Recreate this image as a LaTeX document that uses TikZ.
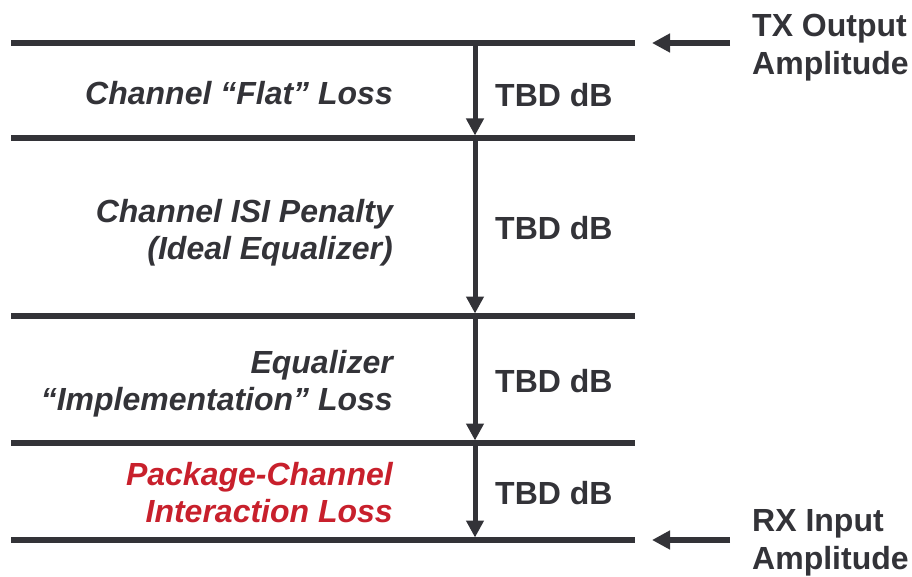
\documentclass[tikz,border=0pt]{standalone}
\usepackage{fontspec}
\setmainfont{Liberation Sans}
\usetikzlibrary{arrows.meta}
\definecolor{ink}{HTML}{333338}
\definecolor{redtxt}{HTML}{C8202C}
\tikzset{
  level/.style={draw=ink, line width=5.5pt},
  drop/.style={draw=ink, line width=5pt, -{Triangle[length=17pt,width=17pt]}, shorten >=2.5pt},
  sidearrow/.style={draw=ink, line width=5.5pt, -{Triangle[length=18pt,width=18pt]}},
  lbl/.style={font=\fontsize{32}{37.5}\selectfont\bfseries\itshape, text=ink, inner sep=0pt, anchor=base east, align=right},
  val/.style={font=\fontsize{32}{37}\selectfont\bfseries, text=ink, inner sep=0pt, anchor=base west},
  side/.style={font=\fontsize{32}{38}\selectfont\bfseries, text=ink, inner sep=0pt, anchor=base west, align=left}
}
\begin{document}
\begin{tikzpicture}[x=1pt,y=-1pt]
\useasboundingbox (0,0) rectangle (912,577);
% level lines
\foreach \i/\y in {0/43,1/138,2/316,3/443,4/540}{
  \coordinate (L\i) at (11,\y);
  \coordinate (R\i) at (635,\y);
  \coordinate (V\i) at (475,\y);
}
\foreach \i in {0,...,4}{ \draw[level] (L\i) -- (R\i); }
% vertical drops
\draw[drop] (V0) -- (V1);
\draw[drop] (V1) -- (V2);
\draw[drop] (V2) -- (V3);
\draw[drop] (V3) -- (V4);
% side arrows
\coordinate (TXt) at (730,43);
\coordinate (TXh) at (652,43);
\coordinate (RXt) at (730,540);
\coordinate (RXh) at (652,540);
\draw[sidearrow] (TXt) -- (TXh);
\draw[sidearrow] (RXt) -- (RXh);
% labels (base anchor = baseline of last line)
\node[lbl] (flat) at (393,104.5) {Channel “Flat” Loss};
\node[lbl] (isi) at (393,259.5) {Channel ISI Penalty\\(Ideal Equalizer)};
\node[lbl] (impl) at (393,410.5) {Equalizer\\“Implementation” Loss};
\node[lbl, text=redtxt] (pkg) at (393,522.5) {Package-Channel\\Interaction Loss};
% values
\node[val] (v1) at (495,106.5) {TBD dB};
\node[val] (v2) at (495,239.5) {TBD dB};
\node[val] (v3) at (495,392.5) {TBD dB};
\node[val] (v4) at (495,504.5) {TBD dB};
% side text
\node[side] (tx) at (752,74.5) {TX Output\\Amplitude};
\node[side] (rx) at (752,569.5) {RX Input\\Amplitude};
\end{tikzpicture}
\end{document}
